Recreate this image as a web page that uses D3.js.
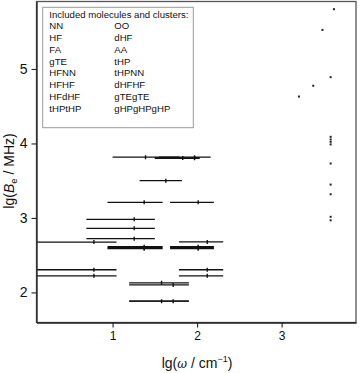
<!DOCTYPE html>
<html>
<head>
<meta charset="utf-8">
<script src="https://cdn.jsdelivr.net/npm/d3@7"></script>
<style>
  body { margin: 0; background: #fff; }
  svg { display: block; font-family: "Liberation Sans", Arial, sans-serif; }
</style>
</head>
<body>
<div id="chart"></div>
<script>
// Bars: lg(Be) with a range in lg(omega) (low, centre, high)
var barY   = [3.816, 3.806, 3.800, 3.816, 3.50, 3.21, 3.21, 2.981, 2.860, 2.721, 2.676, 2.678,
              2.614, 2.600, 2.587, 2.614, 2.600, 2.587, 2.304, 2.304, 2.223, 2.223,
              2.129, 2.100, 1.882, 1.882];
var barLo  = [1.00, 1.50, 1.50, 1.55, 1.32, 0.94, 1.68, 0.69, 0.69, 0.69, 0.10, 1.785,
              0.94, 0.94, 0.94, 1.68, 1.68, 1.68, 0.10, 1.785, 0.10, 1.785,
              1.196, 1.196, 1.196, 1.196];
var barMid = [1.39, 1.83, 1.97, 1.97, 1.63, 1.374, 2.013, 1.256, 1.256, 1.256, 0.779, 2.12,
              1.374, 1.374, 1.374, 2.013, 2.013, 2.013, 0.779, 2.12, 0.779, 2.12,
              1.58, 1.717, 1.58, 1.717];
var barHi  = [1.79, 2.03, 2.03, 2.16, 1.82, 1.592, 2.199, 1.50, 1.50, 1.50, 1.047, 2.309,
              1.592, 1.592, 1.592, 2.199, 2.199, 2.199, 1.047, 2.309, 1.047, 2.309,
              1.903, 1.903, 1.903, 1.903];

// Single points without a range
var dotX = [3.619, 3.483, 3.580, 3.374, 3.205, 3.580, 3.580, 3.580, 3.580, 3.580, 3.580, 3.580, 3.580, 3.580];
var dotY = [5.803, 5.525, 4.890, 4.775, 4.630, 4.089, 4.054, 4.022, 3.987, 3.731, 3.448, 3.318, 3.015, 2.968];

var xMajor = [1, 2, 3], xMinor = [0.5, 1.5, 2.5, 3.5];
var yMajor = [2, 3, 4, 5], yMinor = [2.5, 3.5, 4.5, 5.5];

var legendTitle = "Included molecules and clusters:";
var legendLeft  = ["NN", "HF", "FA", "gTE", "HFNN", "HFHF", "HFdHF", "tHPtHP"];
var legendRight = ["OO", "dHF", "AA", "tHP", "tHPNN", "dHFHF", "gTEgTE", "gHPgHPgHP"];

var width = 360, height = 373;
var plot = {left: 36.5, right: 356, top: 1.5, bottom: 322.5};

var svg = d3.select("#chart").append("svg")
    .attr("width", width).attr("height", height);

var x = d3.scaleLinear().domain([0.1, 3.88]).range([plot.left, plot.right]),
    y = d3.scaleLinear().domain([1.596, 5.906]).range([plot.bottom, plot.top]);

svg.append("clipPath").attr("id", "clip")
  .append("rect")
    .attr("x", plot.left).attr("y", plot.top)
    .attr("width", plot.right - plot.left).attr("height", plot.bottom - plot.top);

// legend box
var lg = svg.append("g");
lg.append("rect")
    .attr("x", 42.7).attr("y", 7.3).attr("width", 150.6).attr("height", 120.4)
    .attr("fill", "#fff").attr("stroke", "#9a9a9a").attr("stroke-width", 1);
lg.append("text").attr("x", 49.3).attr("y", 17.6)
    .attr("font-size", 9.6).attr("fill", "#111").text(legendTitle);
legendLeft.forEach(function(d, i) {
  lg.append("text").attr("x", 49.3).attr("y", 29.4 + i * 11.75)
    .attr("font-size", 9.6).attr("fill", "#111").text(d);
});
legendRight.forEach(function(d, i) {
  lg.append("text").attr("x", 114.3).attr("y", 29.4 + i * 11.75)
    .attr("font-size", 9.6).attr("fill", "#111").text(d);
});

// bars
var bars = svg.append("g").attr("clip-path", "url(#clip)");
barY.forEach(function(v, i) {
  bars.append("line")
    .attr("x1", x(barLo[i])).attr("x2", x(barHi[i]))
    .attr("y1", y(v)).attr("y2", y(v))
    .attr("stroke", "#111").attr("stroke-width", 1.3);
  bars.append("line")
    .attr("x1", x(barMid[i])).attr("x2", x(barMid[i]))
    .attr("y1", y(v) - 2).attr("y2", y(v) + 2)
    .attr("stroke", "#111").attr("stroke-width", 1.4);
});

// dots
svg.append("g").selectAll("rect")
  .data(dotX).enter().append("rect")
    .attr("x", function(d) { return x(d) - 1; })
    .attr("y", function(d, i) { return y(dotY[i]) - 1; })
    .attr("width", 2).attr("height", 2)
    .attr("fill", "#222");

// frame
svg.append("rect")
    .attr("x", plot.left).attr("y", plot.top)
    .attr("width", plot.right - plot.left).attr("height", plot.bottom - plot.top)
    .attr("fill", "none").attr("stroke", "#555").attr("stroke-width", 1.3);

// axes
var gx = svg.append("g").attr("transform", "translate(0," + plot.bottom + ")");
gx.call(d3.axisBottom(x).tickValues(xMinor).tickSize(3).tickFormat(""));
gx.call(d3.axisBottom(x).tickValues(xMajor).tickSize(5).tickSizeOuter(0).tickFormat(d3.format("d")));
gx.selectAll("text").attr("font-size", 12).attr("fill", "#111").attr("dy", "0.85em").attr("y", 7);
var gy = svg.append("g").attr("transform", "translate(" + plot.left + ",0)");
gy.call(d3.axisLeft(y).tickValues(yMinor).tickSize(3).tickFormat(""));
gy.call(d3.axisLeft(y).tickValues(yMajor).tickSize(5).tickSizeOuter(0).tickFormat(d3.format("d")));
gy.selectAll("text").attr("font-size", 14).attr("fill", "#111").attr("x", -9);
svg.selectAll(".domain").attr("stroke", "#222").attr("stroke-width", 1.3);
svg.selectAll(".tick line").attr("stroke", "#222").attr("stroke-width", 1.1);

// axis titles
var xt = svg.append("text")
    .attr("x", 197).attr("y", 368).attr("text-anchor", "middle")
    .attr("font-size", 14).attr("fill", "#111");
xt.append("tspan").text("lg(");
xt.append("tspan").attr("font-style", "italic").attr("font-family", "'DejaVu Serif', serif").attr("font-size", 12).text("\u03c9");
xt.append("tspan").text(" / cm");
xt.append("tspan").attr("font-size", 9).attr("dy", -6).text("\u22121");
xt.append("tspan").attr("dy", 6).text(")");

var yt = svg.append("text")
    .attr("transform", "translate(13.5,171) rotate(-90)")
    .attr("text-anchor", "middle")
    .attr("font-size", 14).attr("fill", "#111");
yt.append("tspan").text("lg(");
yt.append("tspan").attr("font-style", "italic").text("B");
yt.append("tspan").attr("font-size", 9.5).attr("dy", 3).text("e");
yt.append("tspan").attr("dy", -3).text(" / MHz)");
</script>
</body>
</html>
